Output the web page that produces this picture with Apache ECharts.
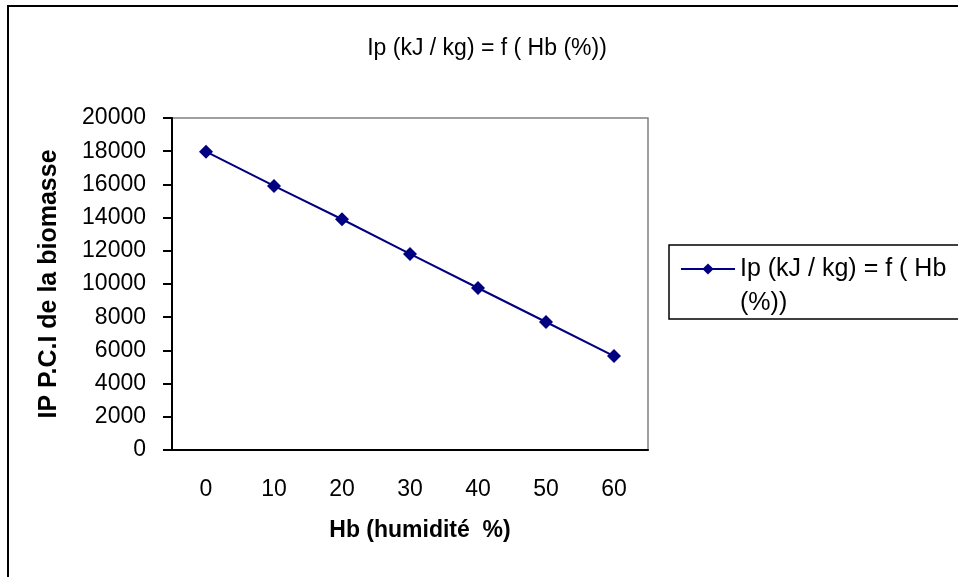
<!DOCTYPE html>
<html>
<head>
<meta charset="utf-8">
<script src="https://cdn.jsdelivr.net/npm/echarts@6/dist/echarts.min.js"></script>
<style>
  html, body { margin: 0; padding: 0; background: #fff; }
  #chart-box { width: 958px; height: 577px; }
</style>
</head>
<body>
<div id="chart-box"></div>
<script>
// humidite de la biomasse (%) et pouvoir calorifique (kJ/kg)
const humidite = ['0', '10', '20', '30', '40', '50', '60'];
const pci = [17970, 15910, 13900, 11810, 9760, 7710, 5660];
const serieNom = 'Ip (kJ / kg) = f ( Hb (%))';

const chart = echarts.init(document.getElementById('chart-box'));
const font = 'Liberation Sans, Arial, sans-serif';

chart.setOption({
  animation: false,
  title: {
    text: serieNom,
    left: 482,
    top: 32,
    textAlign: 'center',
    textStyle: { fontFamily: font, fontSize: 23, fontWeight: 'normal', color: '#000' }
  },
  graphic: [
    {
      // cadre de la zone graphique
      type: 'rect',
      shape: { x: 8, y: 6, width: 1000, height: 620 },
      style: { fill: 'none', stroke: '#000', lineWidth: 2 },
      silent: true
    },
    {
      // cadre de la legende
      type: 'rect',
      shape: { x: 669, y: 245, width: 400, height: 74 },
      style: { fill: 'none', stroke: '#000', lineWidth: 1.5 },
      silent: true
    }
  ],
  legend: {
    left: 680,
    top: 218,
    orient: 'vertical',
    padding: 0,
    itemWidth: 54,
    itemHeight: 14,
    itemGap: 0,
    // ligne vide en tete : le libelle commence a hauteur du symbole
    formatter: () => '\nIp (kJ / kg) = f ( Hb\n(%))',
    textStyle: { fontFamily: font, fontSize: 25, color: '#000', lineHeight: 34 }
  },
  grid: {
    left: 172,
    top: 118,
    width: 476,
    height: 332,
    show: true,
    borderColor: '#808080',
    borderWidth: 1.5
  },
  xAxis: {
    type: 'category',
    data: humidite,
    boundaryGap: true,
    name: 'Hb (humidité  %)',
    nameLocation: 'middle',
    nameGap: 69,
    nameTextStyle: { fontFamily: font, fontSize: 23, fontWeight: 'bold', color: '#000', padding: [0, 0, 0, 20] },
    axisLine: { lineStyle: { color: '#000', width: 2 } },
    axisTick: { alignWithLabel: false, length: 9, lineStyle: { color: '#000', width: 2 } },
    axisLabel: { margin: 28, fontFamily: font, fontSize: 23, color: '#000' },
    splitLine: { show: false }
  },
  yAxis: {
    type: 'value',
    min: 0,
    max: 20000,
    interval: 2000,
    name: 'IP P.C.I de la biomasse',
    nameLocation: 'middle',
    nameGap: 110,
    nameTextStyle: { fontFamily: font, fontSize: 25, fontWeight: 'bold', color: '#000' },
    axisLine: { show: true, lineStyle: { color: '#000', width: 2 } },
    axisTick: { show: true, length: 9, lineStyle: { color: '#000', width: 2 } },
    axisLabel: { margin: 26, fontFamily: font, fontSize: 23, color: '#000', formatter: v => String(v) },
    splitLine: { show: false }
  },
  series: [
    {
      name: serieNom,
      type: 'line',
      data: pci,
      symbol: 'diamond',
      symbolSize: 14,
      itemStyle: { color: '#000080' },
      lineStyle: { color: '#000080', width: 2 }
    }
  ]
});
</script>
</body>
</html>
